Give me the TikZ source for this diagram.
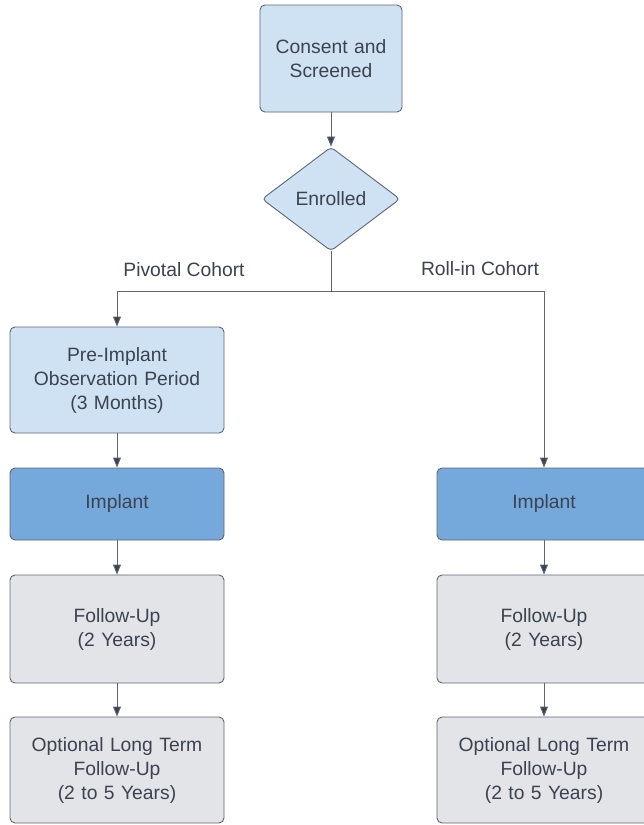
\documentclass[tikz,border=0pt]{standalone}
\usepackage{fontspec}
\setmainfont{Liberation Sans}
\usetikzlibrary{shapes.geometric,arrows.meta}
\definecolor{lblue}{HTML}{CFE2F3}
\definecolor{dblue}{HTML}{76A9DB}
\definecolor{lgray}{HTML}{E2E4E8}
\definecolor{edge}{HTML}{5F6672}
\definecolor{txt}{HTML}{3B4350}
\tikzset{
  box/.style={draw=edge, line width=0.9pt, rounded corners=5pt, minimum width=214pt, text width=205pt, align=center, font=\fontsize{19.3}{24}\selectfont, text=txt, inner sep=0pt},
  conn/.style={draw=edge, line width=0.9pt, -{Triangle[length=10pt,width=8pt,fill=txt]}},
  plain/.style={draw=edge, line width=0.9pt},
  lbl/.style={font=\fontsize{19.3}{24}\selectfont, text=txt}
}
\begin{document}
\begin{tikzpicture}[x=1pt,y=-1pt]
\useasboundingbox[fill=white] (0,0) rectangle (644,825);
\node[box, fill=lblue, minimum width=142pt, text width=138pt, minimum height=107pt] (consent) at (331,58.5) {Consent and\\Screened};
\node[draw=edge, line width=0.9pt, fill=lblue, diamond, rounded corners=4pt, minimum width=138pt, minimum height=104pt, inner sep=0pt, font=\fontsize{19.3}{24}\selectfont, text=txt] (enr) at (331,199) {Enrolled};
\node[box, fill=lblue, minimum height=106pt] (pre) at (117,380) {Pre-Implant\\Observation Period\\(3 Months)};
\node[box, fill=dblue, minimum height=72pt] (impL) at (117,504) {Implant};
\node[box, fill=dblue, minimum height=72pt] (impR) at (544,504) {Implant};
\node[box, fill=lgray, minimum height=108pt] (fuL) at (117,629) {Follow-Up\\(2 Years)};
\node[box, fill=lgray, minimum height=108pt] (fuR) at (544,629) {Follow-Up\\(2 Years)};
\node[box, fill=lgray, minimum height=106pt] (ltL) at (117,770) {Optional Long Term\\Follow-Up\\(2 to 5 Years)};
\node[box, fill=lgray, minimum height=106pt] (ltR) at (544,770) {Optional Long Term\\Follow-Up\\(2 to 5 Years)};
\coordinate (split) at (331,291);
\node[lbl] (piv) at (184,270) {Pivotal Cohort};
\node[lbl] (roll) at (480,269) {Roll-in Cohort};
\draw[conn] (consent) -- (enr);
\draw[plain] (enr) -- (split);
\draw[conn] (split) -| (pre);
\draw[conn] (split) -| (impR);
\draw[conn] (pre) -- (impL);
\draw[conn] (impL) -- (fuL);
\draw[conn] (impR) -- (fuR);
\draw[conn] (fuL) -- (ltL);
\draw[conn] (fuR) -- (ltR);
\end{tikzpicture}
\end{document}
